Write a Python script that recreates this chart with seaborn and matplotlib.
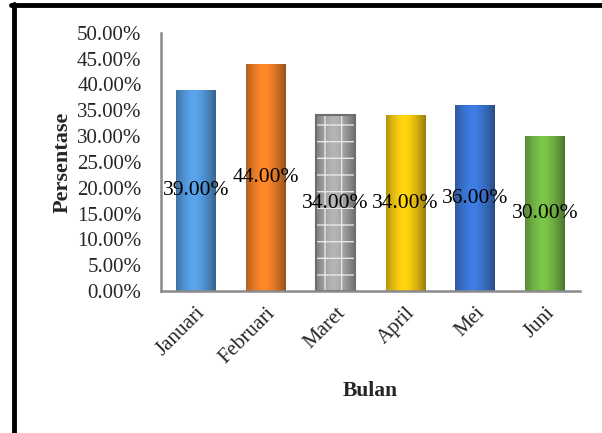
import numpy as np
import pandas as pd
import matplotlib
matplotlib.use("Agg")
import matplotlib.pyplot as plt
import matplotlib.colors as mcolors
from matplotlib.lines import Line2D
import seaborn as sns

bulan = ["Januari", "Februari", "Maret", "April", "Mei", "Juni"]
persentase = [39.0, 44.0, 34.0, 34.0, 36.0, 30.0]
warna = ["#4A97E0", "#F57A1A", "#A6A6A6", "#F7C800", "#2F6FD6", "#6DB83A"]
yticks = [0, 5, 10, 15, 20, 25, 30, 35, 40, 45, 50]

df = pd.DataFrame({"Bulan": bulan, "Persentase": persentase})

sns.set_theme(style="white")
plt.rcParams["font.family"] = ["Liberation Serif", "DejaVu Serif"]

fig = plt.figure(figsize=(6.02, 4.33), dpi=100)
ax = fig.add_axes([0.2674, 0.328, 0.6961, 0.5962])

sns.barplot(data=df, x="Bulan", y="Persentase", hue="Bulan", palette=warna,
            width=0.57, legend=False, ax=ax, saturation=1)

# cylinder-like shading across each bar
grad = np.linspace(0, 1, 64)
shade = 1 - 0.45 * (np.abs(grad - 0.45) / 0.55) ** 1.5
for patch, c in zip(ax.patches, warna):
    x0, y0 = patch.get_x(), patch.get_y()
    w, h = patch.get_width(), patch.get_height()
    base = np.array(mcolors.to_rgb(c))
    img = np.clip(base[None, None, :] * shade[None, :, None] + 0.06, 0, 1)
    im = ax.imshow(img, extent=(x0, x0 + w, y0, y0 + h), aspect="auto",
                   zorder=patch.get_zorder() + 0.1, interpolation="bilinear")
    im.set_clip_path(patch)

# textured fill for Maret
maret = ax.patches[2]
maret.set_hatch("+")
maret.set_edgecolor("#e6e6e6")
maret.set_linewidth(0)
maret.set_zorder(3)
maret.set_facecolor("none")
ax.add_patch(plt.Rectangle((maret.get_x(), 0), maret.get_width(), maret.get_height(),
                           fill=False, edgecolor="#6e6e6e", lw=1.5, zorder=3.5))

ax.set_ylim(0, 50)
ax.set_xlim(-0.5, 5.5)
ax.set_yticks(yticks)
ax.set_yticklabels([f"{v:.2f}%" for v in yticks], fontsize=15)
ax.tick_params(axis="y", length=0, pad=14)
ax.tick_params(axis="x", length=0, pad=9)
for lab in ax.get_xticklabels():
    lab.set_rotation(45)
    lab.set_ha("right")
    lab.set_rotation_mode("anchor")
    lab.set_fontsize(15)

for i, v in enumerate(persentase):
    ax.text(i, v / 2, f"{v:.2f}%", ha="center", va="center",
            fontsize=15.5, color="black", zorder=5)

ax.set_xlabel("Bulan", fontsize=15.5, fontweight="bold", labelpad=10)
ax.set_ylabel("Persentase", fontsize=16, fontweight="bold", labelpad=3)

for s in ["top", "right"]:
    ax.spines[s].set_visible(False)
for s in ["left", "bottom"]:
    ax.spines[s].set_color("#8a8a8a")
    ax.spines[s].set_linewidth(1.8)
    ax.spines[s].set_zorder(6)

# outer frame lines
fig.add_artist(Line2D([0.018, 1.0], [0.988, 0.988], color="black", lw=3.5,
                      transform=fig.transFigure))
fig.add_artist(Line2D([0.0235, 0.0235], [0.0, 0.99], color="black", lw=3.5,
                      transform=fig.transFigure))

fig.savefig("out.png", dpi=100)
